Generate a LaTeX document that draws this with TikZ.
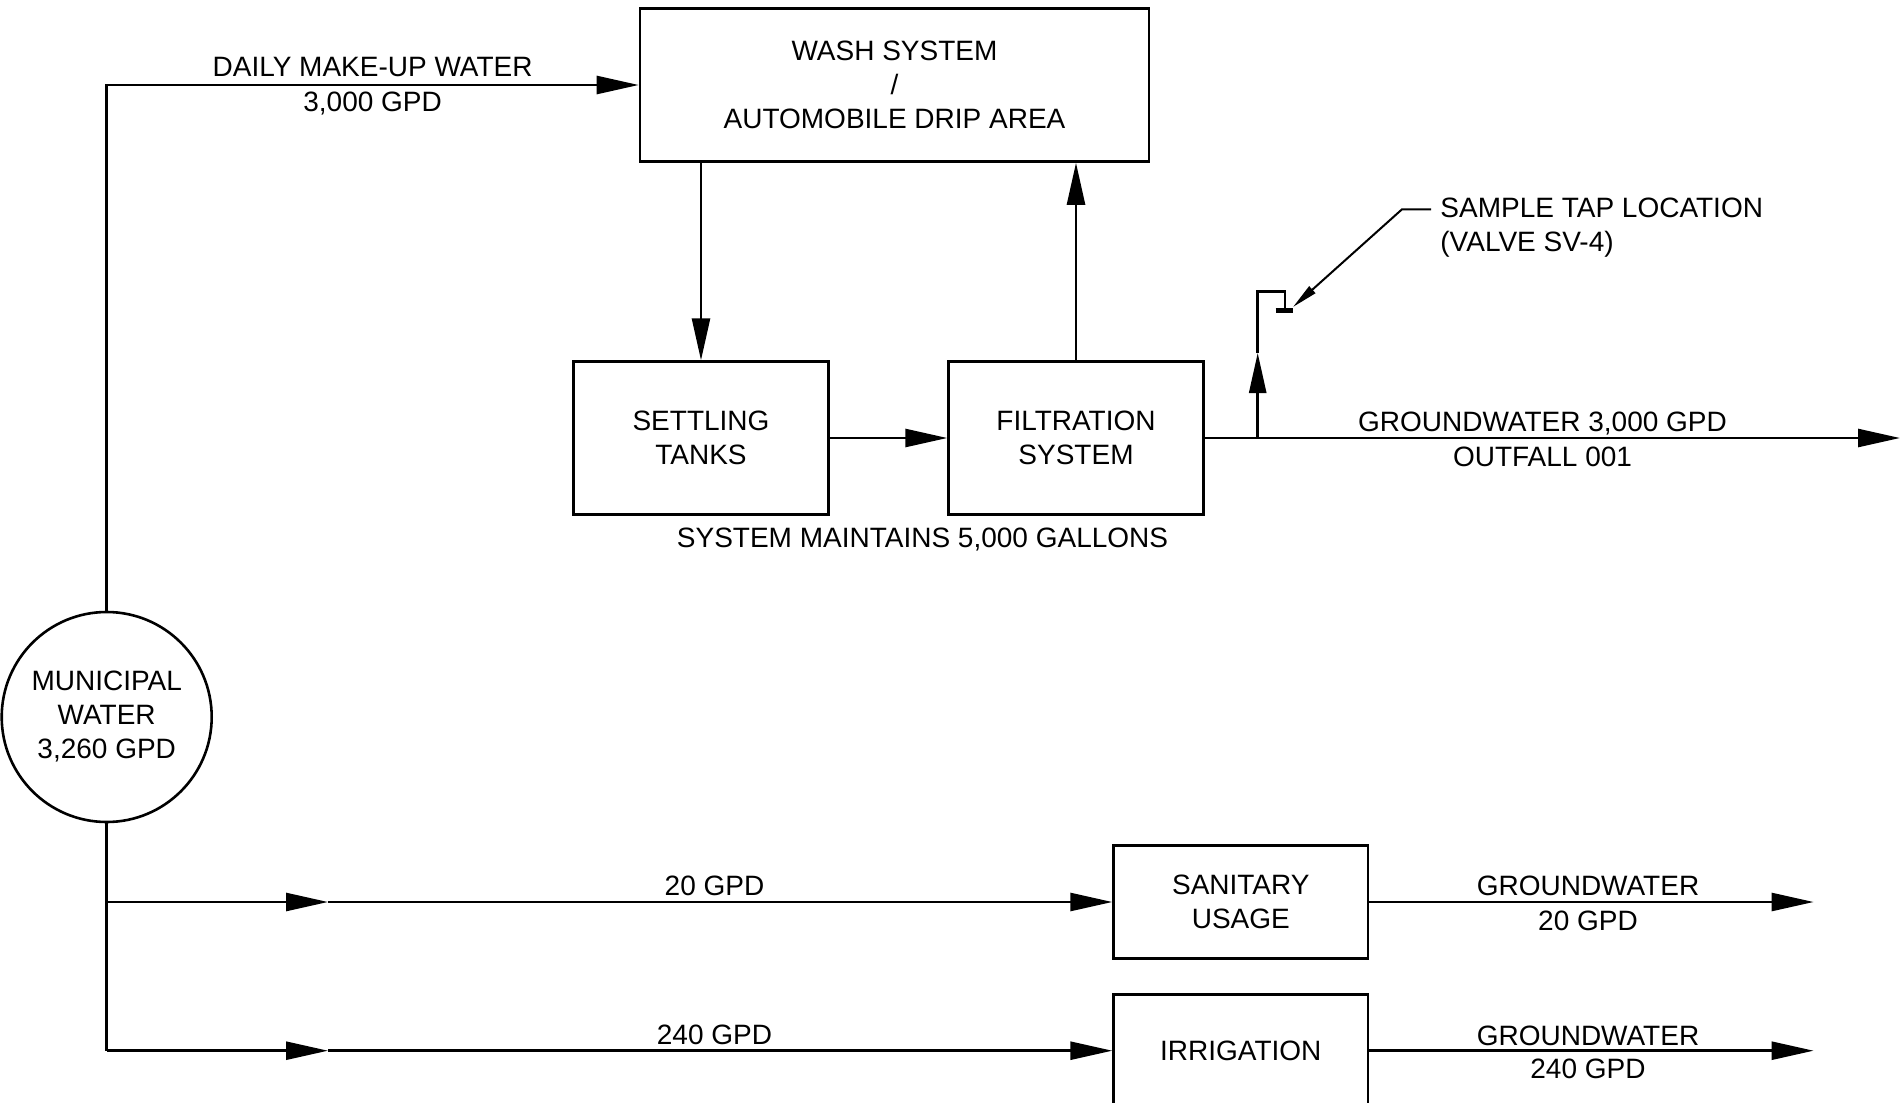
\documentclass[tikz,border=0pt]{standalone}
\usepackage{fontspec}
\setmainfont{Liberation Sans}
\usetikzlibrary{arrows.meta}
\begin{document}
\begin{tikzpicture}[x=0.5pt,y=-0.5pt,
  font=\fontsize{14pt}{17pt}\selectfont,
  box/.style={draw, line width=1.3pt, align=center, inner sep=0pt},
  pipe/.style={line width=1.3pt},
  flow/.style={line width=1.3pt, -{Triangle[length=21pt,width=9pt]}},
  lab/.style={inner sep=0pt, anchor=base},
  labw/.style={inner sep=0pt, anchor=base west}]
\useasboundingbox (0,0) rectangle (1902,1103);
\clip (0,0) rectangle (1902,1103);
\fill[white] (0,0) rectangle (1902,1103);

% boxes
\node[box, minimum width=254.5pt, minimum height=76.5pt] (wash) at (894.5,85)
  {WASH SYSTEM\\/\\AUTOMOBILE DRIP AREA};
\node[box, minimum width=127.4pt, minimum height=76.4pt] (settle) at (701,438)
  {SETTLING\\TANKS};
\node[box, minimum width=127.4pt, minimum height=76.4pt] (filt) at (1076,438)
  {FILTRATION\\SYSTEM};
\node[box, circle, minimum size=105pt] (mun) at (106.7,717)
  {MUNICIPAL\\WATER\\3,260 GPD};
\node[box, minimum width=127.2pt, minimum height=56.3pt] (san) at (1240.8,902)
  {SANITARY\\USAGE};
\node[box, minimum width=127.2pt, minimum height=56.5pt] (irr) at (1240.8,1050.7)
  {IRRIGATION};

% top loop
\draw[flow] (mun.north) |- (wash.west);
\draw[flow] (settle.north |- wash.south) -- (settle.north);
\draw[flow] (filt.north) -- (filt.north |- wash.south);
\draw[flow] (settle.east) -- (filt.west);
\coordinate (out1) at (1900,438);
\draw[flow] (filt.east) -- (out1);

% sample tap
\coordinate (tapj) at (1257.7,438);
\coordinate (tapa) at (1257.7,353);
\coordinate (taptop) at (1257.7,291.7);
\coordinate (tapend) at (1285,309);
\draw[line width=1.3pt, -{Triangle[length=20pt,width=8.5pt]}] (tapj) -- (tapa);
\draw[pipe] (tapa) -- (taptop) -| (tapend);
\coordinate (tb1) at (1275.5,310);
\coordinate (tb2) at (1293,310);
\draw[line width=2.5pt] (tb1) -- (tb2);
\node[labw] (tap1) at (1440,217.3) {SAMPLE TAP LOCATION};
\node[labw] (tap2) at (1440,251.7) {(VALVE SV-4)};
\coordinate (ld1) at (1431,209.3);
\coordinate (ld2) at (1402,209.3);
\coordinate (ld3) at (1293,307);
\draw[line width=1pt, -{Triangle[length=13pt,width=4.5pt]}] (ld1) -- (ld2) -- (ld3);

% bottom rows
\coordinate (j1) at (106.7,902);
\coordinate (j2) at (106.7,1050.7);
\coordinate (m1) at (328,902);
\coordinate (m2) at (328,1050.7);
\draw[pipe] (mun.south) -- (j2);
\draw[flow] (j1) -- (m1);
\draw[flow] (m1) -- (san.west);
\draw[flow] (j2) -- (m2);
\draw[flow] (m2) -- (irr.west);
\coordinate (o2) at (1813.6,902);
\coordinate (o3) at (1813.6,1050.7);
\draw[flow] (san.east) -- (o2);
\draw[flow] (irr.east) -- (o3);

% labels
\node[lab] (mk1) at (372.6,76.7) {DAILY MAKE-UP WATER};
\node[lab] (mk2) at (372.6,111.7) {3,000 GPD};
\node[lab] (gw1) at (1542.5,431.7) {GROUNDWATER 3,000 GPD};
\node[lab] (gw2) at (1542.5,466.7) {OUTFALL 001};
\node[lab] (sys) at (922.5,547) {SYSTEM MAINTAINS 5,000 GALLONS};
\node[lab] (r1) at (714.5,895.5) {20 GPD};
\node[lab] (r2) at (714.5,1044.7) {240 GPD};
\node[lab] (s1) at (1588,895.7) {GROUNDWATER};
\node[lab] (s2) at (1588,930) {20 GPD};
\node[lab] (i1) at (1588,1045) {GROUNDWATER};
\node[lab] (i2) at (1588,1078) {240 GPD};
\end{tikzpicture}
\end{document}
